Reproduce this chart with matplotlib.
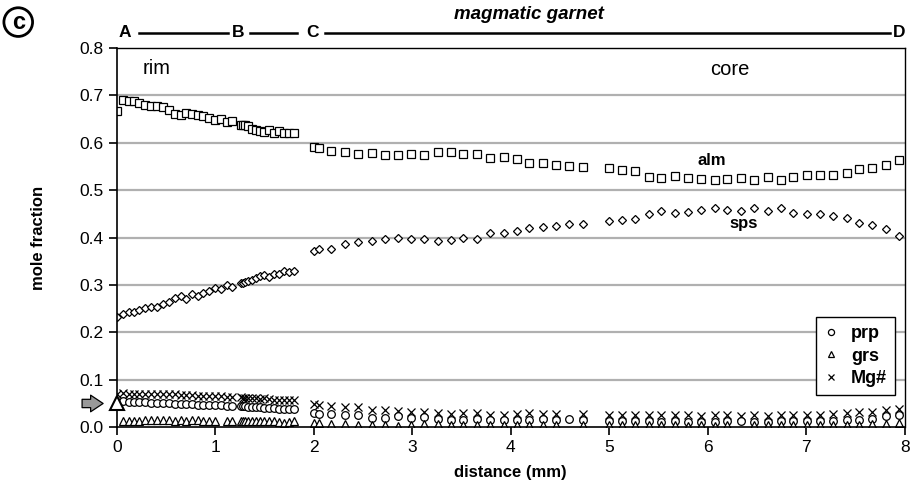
import numpy as np
import matplotlib
matplotlib.use("Agg")
import matplotlib.pyplot as plt
from matplotlib.transforms import blended_transform_factory

plt.rcParams['font.family'] = ['Liberation Sans', 'DejaVu Sans']

# distances (mm) along the traverse: rim (A-B), B-C, magmatic core (C-D)
dist_ab = [0.00, 0.06, 0.12, 0.18, 0.23, 0.29, 0.35, 0.41, 0.47, 0.53, 0.59,
           0.65, 0.70, 0.76, 0.82, 0.88, 0.94, 1.00, 1.06, 1.12, 1.17]
dist_bc = [1.26, 1.28, 1.30, 1.33, 1.37, 1.41, 1.45, 1.50, 1.55, 1.60, 1.65,
           1.70, 1.75, 1.80]
dist_cd = [2.00, 2.05, 2.18, 2.32, 2.45, 2.59, 2.72, 2.86, 2.99, 3.12, 3.26,
           3.39, 3.52, 3.66, 3.79, 3.93, 4.06, 4.19, 4.33, 4.46, 4.59, 4.73,
           5.00, 5.13, 5.26, 5.40, 5.53, 5.67, 5.80, 5.93, 6.07, 6.20, 6.34,
           6.47, 6.61, 6.74, 6.87, 7.01, 7.14, 7.27, 7.41, 7.54, 7.67, 7.81, 7.94]
dist = dist_ab + dist_bc + dist_cd

alm = [0.667, 0.690, 0.688, 0.688, 0.685, 0.679, 0.678, 0.678, 0.675, 0.669, 0.660,
       0.658, 0.663, 0.661, 0.659, 0.656, 0.652, 0.648, 0.650, 0.644, 0.646,
       0.637, 0.637, 0.637, 0.635, 0.630, 0.628, 0.625, 0.623, 0.627, 0.621, 0.625,
       0.620, 0.621, 0.620,
       0.591, 0.590, 0.583, 0.580, 0.576, 0.578, 0.574, 0.574, 0.577, 0.574, 0.580,
       0.580, 0.577, 0.576, 0.569, 0.571, 0.566, 0.557, 0.557, 0.554, 0.551, 0.550,
       0.546, 0.542, 0.540, 0.528, 0.526, 0.530, 0.526, 0.523, 0.521, 0.523, 0.526,
       0.521, 0.528, 0.521, 0.528, 0.532, 0.532, 0.532, 0.537, 0.544, 0.547, 0.554, 0.564]

sps = [0.232, 0.238, 0.243, 0.243, 0.247, 0.252, 0.254, 0.254, 0.259, 0.265, 0.272,
       0.277, 0.270, 0.281, 0.277, 0.284, 0.288, 0.293, 0.291, 0.300, 0.296,
       0.305, 0.305, 0.306, 0.308, 0.311, 0.314, 0.319, 0.321, 0.316, 0.323, 0.323,
       0.329, 0.328, 0.329,
       0.372, 0.375, 0.377, 0.386, 0.391, 0.393, 0.397, 0.400, 0.397, 0.397, 0.393,
       0.395, 0.400, 0.398, 0.409, 0.409, 0.414, 0.421, 0.422, 0.424, 0.428, 0.428,
       0.435, 0.438, 0.440, 0.449, 0.456, 0.452, 0.454, 0.458, 0.462, 0.458, 0.456,
       0.463, 0.456, 0.462, 0.452, 0.449, 0.449, 0.445, 0.442, 0.431, 0.426, 0.419, 0.403]

prp = [0.054, 0.055, 0.054, 0.054, 0.053, 0.053, 0.052, 0.052, 0.051, 0.050, 0.049,
       0.049, 0.048, 0.048, 0.047, 0.047, 0.047, 0.046, 0.046, 0.045, 0.045,
       0.045, 0.044, 0.044, 0.043, 0.043, 0.042, 0.042, 0.041, 0.040, 0.040, 0.039,
       0.039, 0.038, 0.039,
       0.029, 0.028, 0.027, 0.025, 0.025, 0.020, 0.020, 0.023, 0.020, 0.021, 0.018,
       0.016, 0.016, 0.018, 0.016, 0.015, 0.016, 0.016, 0.017, 0.016, 0.018, 0.015,
       0.013, 0.012, 0.012, 0.012, 0.011, 0.012, 0.011, 0.011, 0.011, 0.012, 0.012,
       0.011, 0.011, 0.012, 0.012, 0.012, 0.013, 0.013, 0.015, 0.016, 0.017, 0.023, 0.025]

grs = [0.050, 0.014, 0.012, 0.014, 0.014, 0.015, 0.015, 0.015, 0.015, 0.015, 0.014,
       0.015, 0.014, 0.015, 0.015, 0.014, 0.014, 0.014, np.nan, 0.012, 0.013,
       0.013, 0.013, 0.013, 0.013, 0.013, 0.013, 0.013, 0.013, 0.013, 0.013, 0.010,
       0.009, 0.010, 0.012,
       0.008, 0.008, 0.006, 0.006, 0.005, 0.005, 0.005, 0.003, 0.005, 0.006, 0.006,
       0.005, 0.005, 0.005, 0.004, 0.005, 0.005, 0.004, 0.005, 0.005, np.nan, 0.005,
       0.004, 0.004, 0.004, 0.005, 0.004, 0.004, 0.003, 0.004, 0.003, 0.005, np.nan,
       0.004, 0.004, 0.005, 0.005, 0.004, 0.004, 0.005, 0.005, 0.005, 0.006, 0.006, 0.008]

mgn = [0.070, 0.072, 0.071, 0.071, 0.071, 0.070, 0.070, 0.070, 0.070, 0.069, 0.069,
       0.068, 0.067, 0.067, 0.066, 0.066, 0.066, 0.065, 0.065, 0.064, 0.064,
       0.063, 0.062, 0.062, 0.062, 0.061, 0.061, 0.060, 0.061, 0.059, 0.058, 0.057,
       0.058, 0.057, 0.058,
       0.049, 0.047, 0.044, 0.043, 0.043, 0.037, 0.036, 0.034, 0.031, 0.032, 0.029,
       0.027, 0.029, 0.030, 0.026, 0.025, 0.027, 0.029, 0.027, 0.027, np.nan, 0.027,
       0.026, 0.026, 0.025, 0.025, 0.026, 0.025, 0.025, 0.024, 0.025, 0.025, 0.024,
       0.025, 0.024, 0.025, 0.026, 0.025, 0.025, 0.028, 0.029, 0.032, 0.031, 0.036, 0.039]

# section markers along the top
sections = ['A', 'B', 'C', 'D']
section_x = [0.08, 1.23, 1.99, 7.94]

fig = plt.figure(figsize=(9.12, 4.91), dpi=100)
ax = fig.add_axes([0.128, 0.130, 0.864, 0.772])

for v in [0.1, 0.2, 0.3, 0.4, 0.5, 0.6, 0.7]:
    ax.axhline(v, color='#b0b0b0', lw=1.6, zorder=0)

opts = dict(ls='none', mfc='white', mec='black', mew=0.9)
ax.plot(dist, alm, marker='s', ms=5.6, **opts)
ax.plot(dist, sps, marker='D', ms=4.3, **opts)
ax.plot(dist, mgn, marker='x', ms=5.5, color='black', mew=0.9, ls='none', label='Mg#')
ax.plot(dist, prp, marker='o', ms=5.5, label='prp', **opts)
ax.plot(dist[1:], grs[1:], marker='^', ms=5.5, label='grs', **opts)
ax.plot(dist[:1], grs[:1], marker='^', ms=10, mfc='white', mec='black', mew=1.5,
        ls='none', clip_on=False, zorder=5)

ax.set_xlim(0, 8)
ax.set_ylim(0, 0.8)
ax.set_xticks(range(0, 9))
ax.set_yticks([0.0, 0.1, 0.2, 0.3, 0.4, 0.5, 0.6, 0.7, 0.8])
ax.set_yticklabels(['%.1f' % t for t in ax.get_yticks()])
ax.tick_params(direction='out', length=6, width=1.2, labelsize=12.5, color='black')
for s in ax.spines.values():
    s.set_linewidth(1.2)
ax.spines['top'].set_linewidth(1.0)
ax.spines['right'].set_linewidth(1.0)

ax.set_xlabel('distance (mm)', fontsize=12, fontweight='bold', labelpad=7)
ax.set_ylabel('mole fraction', fontsize=12, fontweight='bold', labelpad=24)

ax.text(0.26, 0.758, 'rim', fontsize=14.5, va='center', ha='left')
ax.text(6.22, 0.754, 'core', fontsize=14.5, va='center', ha='center')
ax.text(6.04, 0.562, 'alm', fontsize=12, fontweight='bold', ha='center', va='center')
ax.text(6.37, 0.430, 'sps', fontsize=12, fontweight='bold', ha='center', va='center')

h, l = ax.get_legend_handles_labels()
order = [l.index('prp'), l.index('grs'), l.index('Mg#')]
leg = ax.legend([h[i] for i in order], [l[i] for i in order], loc='lower right',
                bbox_to_anchor=(0.988, 0.084), borderaxespad=0, fancybox=False,
                framealpha=1, edgecolor='black', prop={'weight': 'bold', 'size': 13},
                handlelength=0.8, handletextpad=0.7, borderpad=0.45,
                labelspacing=0.3, markerscale=0.8)
leg.get_frame().set_linewidth(1.0)

# top section bar
trans = blended_transform_factory(ax.transData, ax.transAxes)
for name, x in zip(sections, section_x):
    ax.text(x, 1.04, name, transform=trans, fontsize=12.5, fontweight='bold',
            ha='center', va='center', clip_on=False)
for x0, x1 in [(0.23, 1.13), (1.35, 1.83), (2.11, 7.85)]:
    ax.plot([x0, x1], [1.04, 1.04], transform=trans, color='black', lw=1.8,
            clip_on=False)
ax.text(4.19, 1.09, 'magmatic garnet', transform=trans, fontsize=13.5,
        fontweight='bold', style='italic', ha='center', va='center', clip_on=False)

# arrow marking the outermost rim analysis
ax.annotate('', xy=(-0.11, 0.05), xytext=(-0.38, 0.05),
            arrowprops=dict(arrowstyle='simple,head_length=0.6,head_width=0.8,tail_width=0.4',
                            mutation_scale=15, fc='#999999', ec='black', lw=0.9),
            annotation_clip=False)

fig.text(0.020, 0.955, 'c', fontsize=17, fontweight='bold', ha='center', va='center',
         bbox=dict(boxstyle='circle,pad=0.12', fc='white', ec='black', lw=2))

fig.savefig('out.png', dpi=100)
